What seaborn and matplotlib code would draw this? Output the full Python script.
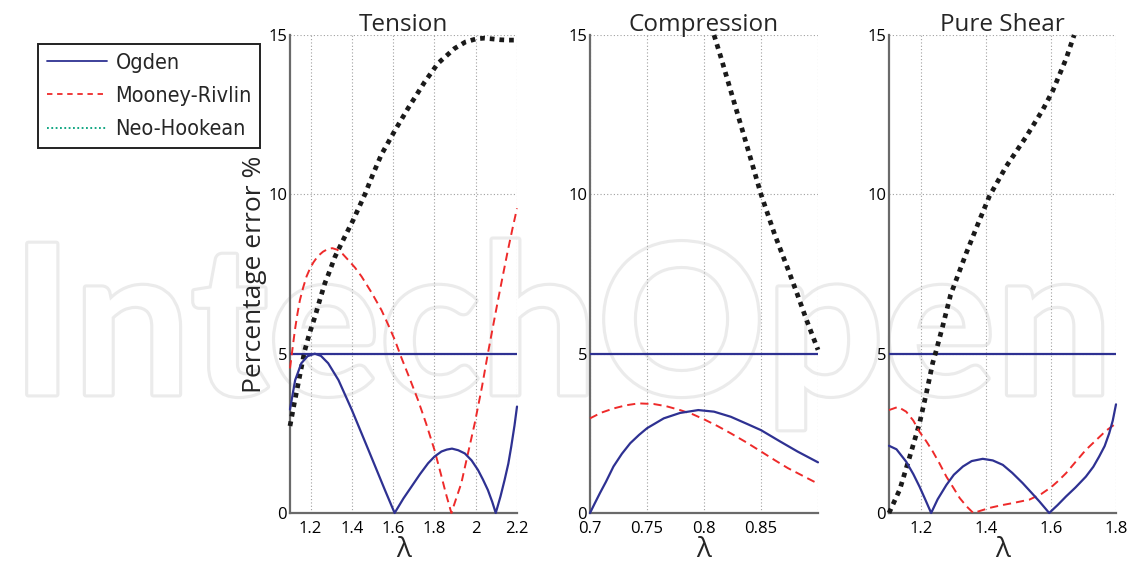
import matplotlib
matplotlib.use("Agg")
import matplotlib.pyplot as plt
import matplotlib.patheffects as pe
from matplotlib.lines import Line2D
import seaborn as sns

# ---- Tension: stretch ratio and percentage errors ----
tension_ogden_x = [1.100, 1.125, 1.155, 1.185, 1.220, 1.250, 1.285, 1.335, 1.400, 1.480,
                   1.560, 1.607, 1.650, 1.689, 1.730, 1.769, 1.800, 1.834, 1.860, 1.885,
                   1.915, 1.947, 1.980, 2.011, 2.035, 2.059, 2.080, 2.097, 2.120, 2.140,
                   2.158, 2.172, 2.188, 2.200]
tension_ogden_y = [3.25, 4.17, 4.70, 4.92, 5.00, 4.93, 4.70, 4.17, 3.23, 1.98,
                   0.72, 0.00, 0.46, 0.83, 1.22, 1.56, 1.77, 1.93, 1.99, 2.02,
                   1.97, 1.87, 1.65, 1.35, 1.05, 0.72, 0.35, 0.00, 0.52, 1.04,
                   1.55, 2.08, 2.75, 3.34]

tension_mooney_x = [1.100, 1.112, 1.124, 1.136, 1.148, 1.164, 1.180, 1.196, 1.213, 1.235,
                    1.260, 1.285, 1.305, 1.330, 1.355, 1.382, 1.415, 1.447, 1.495, 1.543,
                    1.575, 1.608, 1.640, 1.680, 1.720, 1.760, 1.800, 1.830, 1.855, 1.882,
                    1.905, 1.930, 1.960, 1.995, 2.030, 2.059, 2.085, 2.108, 2.132, 2.156,
                    2.178, 2.200]
tension_mooney_y = [4.54, 5.15, 5.75, 6.25, 6.68, 7.08, 7.42, 7.66, 7.86, 8.06,
                    8.20, 8.29, 8.31, 8.26, 8.13, 7.94, 7.70, 7.42, 6.92, 6.37,
                    5.92, 5.43, 4.87, 4.22, 3.55, 2.80, 1.98, 1.25, 0.62, 0.00,
                    0.45, 0.93, 1.80, 2.81, 3.95, 5.01, 5.90, 6.68, 7.47, 8.25,
                    8.92, 9.56]

tension_neo_x = [1.100, 1.120, 1.140, 1.156, 1.172, 1.195, 1.221, 1.245, 1.269, 1.285,
                 1.318, 1.360, 1.406, 1.463, 1.500, 1.543, 1.608, 1.672, 1.753, 1.817,
                 1.898, 1.950, 2.003, 2.040, 2.076, 2.120, 2.160, 2.200]
tension_neo_y = [2.73, 3.42, 4.07, 4.60, 5.11, 5.65, 6.16, 6.70, 7.21, 7.47,
                 8.04, 8.60, 9.19, 10.00, 10.60, 11.25, 12.00, 12.70, 13.53, 14.11,
                 14.58, 14.78, 14.88, 14.90, 14.88, 14.85, 14.84, 14.84]

# ---- Compression ----
compression_ogden_x = [0.7000, 0.7040, 0.7088, 0.7140, 0.7206, 0.7280, 0.7353, 0.7430, 0.7500,
                       0.7647, 0.7790, 0.7950, 0.8088, 0.8235, 0.8375, 0.8500, 0.8670, 0.8820,
                       0.9000]
compression_ogden_y = [0.00, 0.29, 0.63, 0.98, 1.46, 1.86, 2.19, 2.45, 2.66,
                       2.97, 3.14, 3.23, 3.18, 3.02, 2.80, 2.60, 2.24, 1.93,
                       1.59]

compression_mooney_x = [0.7000, 0.7100, 0.7206, 0.7315, 0.7426, 0.7559, 0.7670, 0.7790, 0.7900,
                        0.8000, 0.8118, 0.8235, 0.8370, 0.8500, 0.8620, 0.8735, 0.8870, 0.9000]
compression_mooney_y = [2.97, 3.15, 3.28, 3.38, 3.44, 3.42, 3.35, 3.23, 3.10,
                        2.94, 2.73, 2.50, 2.22, 1.93, 1.66, 1.41, 1.16, 0.92]

compression_neo_x = [0.8088, 0.8150, 0.8250, 0.8350, 0.8500, 0.8620, 0.8740, 0.8820, 0.8900, 0.9000]
compression_neo_y = [15.00, 14.28, 13.06, 11.85, 10.00, 8.74, 7.62, 6.85, 6.05, 5.12]

# ---- Pure shear ----
shear_ogden_x = [1.100, 1.123, 1.153, 1.175, 1.194, 1.212, 1.230, 1.250, 1.277, 1.300,
                 1.328, 1.355, 1.389, 1.420, 1.451, 1.480, 1.512, 1.540, 1.564, 1.594,
                 1.620, 1.646, 1.675, 1.707, 1.730, 1.748, 1.765, 1.779, 1.790, 1.800]
shear_ogden_y = [2.11, 2.00, 1.61, 1.22, 0.83, 0.42, 0.00, 0.43, 0.88, 1.20,
                 1.46, 1.63, 1.70, 1.65, 1.51, 1.26, 0.94, 0.63, 0.36, 0.00,
                 0.25, 0.52, 0.80, 1.14, 1.45, 1.77, 2.10, 2.50, 2.90, 3.41]

shear_mooney_x = [1.100, 1.128, 1.153, 1.175, 1.194, 1.215, 1.235, 1.256, 1.277, 1.298,
                  1.318, 1.340, 1.360, 1.410, 1.445, 1.481, 1.533, 1.570, 1.600, 1.620,
                  1.646, 1.675, 1.707, 1.740, 1.769, 1.800]
shear_mooney_y = [3.23, 3.33, 3.18, 2.90, 2.55, 2.25, 1.93, 1.55, 1.14, 0.80,
                  0.47, 0.20, 0.00, 0.16, 0.24, 0.31, 0.42, 0.60, 0.81, 0.99,
                  1.25, 1.60, 1.98, 2.30, 2.58, 2.81]

shear_neo_x = [1.100, 1.133, 1.164, 1.194, 1.215, 1.235, 1.243, 1.265, 1.290, 1.338,
               1.379, 1.410, 1.461, 1.523, 1.574, 1.605, 1.646, 1.671]
shear_neo_y = [0.00, 0.73, 1.77, 2.81, 3.75, 4.72, 5.00, 5.84, 6.85, 8.15,
               9.19, 9.95, 10.87, 11.81, 12.65, 13.25, 14.25, 15.00]

# ---- Axis setup ----
titles = ["Tension", "Compression", "Pure Shear"]
x_limits = [(1.1, 2.2), (0.7, 0.9), (1.1, 1.8)]
x_ticks = [[1.2, 1.4, 1.6, 1.8, 2.0, 2.2],
           [0.7, 0.75, 0.8, 0.85, 0.9],
           [1.2, 1.4, 1.6, 1.8]]
x_tick_labels = [["1.2", "1.4", "1.6", "1.8", "2", "2.2"],
                 ["0.7", "0.75", "0.8", "0.85", ""],
                 ["1.2", "1.4", "1.6", "1.8"]]
y_ticks = [0, 5, 10, 15]
threshold = 5
legend_labels = ["Ogden", "Mooney-Rivlin", "Neo-Hookean"]

sns.set_theme(style="white")
plt.rcParams["font.family"] = ["Open Sans", "DejaVu Sans"]

BLUE = "#2E3192"
RED = "#EE2A2A"
BLACK = "#1a1a1a"
TEAL = "#00A07A"

fig = plt.figure(figsize=(11.45, 5.65), dpi=100, facecolor="white")

# faint publisher watermark behind the panels
fig.text(0.010, 0.302, "IntechOpen", fontsize=150, fontweight="bold",
         family=["Lato", "DejaVu Sans"], color="white", zorder=-5,
         path_effects=[pe.Stroke(linewidth=4.5, foreground="#ebebeb"), pe.Normal()])

lefts = [290 / 1145, 590 / 1145, 889 / 1145]
widths = [227 / 1145, 228 / 1145, 227 / 1145]
bottom = 52 / 565
height = 478 / 565

series = [
    (tension_ogden_x, tension_ogden_y, tension_mooney_x, tension_mooney_y, tension_neo_x, tension_neo_y),
    (compression_ogden_x, compression_ogden_y, compression_mooney_x, compression_mooney_y,
     compression_neo_x, compression_neo_y),
    (shear_ogden_x, shear_ogden_y, shear_mooney_x, shear_mooney_y, shear_neo_x, shear_neo_y),
]

for i in range(3):
    ax = fig.add_axes([lefts[i], bottom, widths[i], height])
    ax.set_facecolor("none")
    ox, oy, mx, my, nx, ny = series[i]

    ax.axhline(threshold, color=BLUE, lw=1.6, zorder=3)
    sns.lineplot(x=nx, y=ny, ax=ax, color=BLACK, lw=3.4, sort=False,
                 linestyle=(0, (1.0, 1.05)), dash_capstyle="butt", clip_on=False, zorder=4)
    sns.lineplot(x=mx, y=my, ax=ax, color=RED, lw=1.4, sort=False,
                 linestyle=(0, (4.2, 2.6)), clip_on=False, zorder=5)
    sns.lineplot(x=ox, y=oy, ax=ax, color=BLUE, lw=1.6, sort=False, clip_on=False, zorder=6)

    ax.set_xlim(*x_limits[i])
    ax.set_ylim(0, 15)
    ax.set_xticks(x_ticks[i])
    ax.set_xticklabels(x_tick_labels[i])
    ax.set_yticks(y_ticks)
    ax.set_yticklabels([str(v) for v in y_ticks])
    ax.grid(True, which="major", linestyle=(0, (1, 2)), color="#a0a0a0", lw=0.8)
    ax.tick_params(axis="both", direction="in", length=4, width=1, color="#555555",
                   labelsize=12, labelcolor="black")
    ax.tick_params(axis="x", pad=6)
    ax.tick_params(axis="y", pad=2)
    for side in ["top", "right"]:
        ax.spines[side].set_visible(False)
    for side in ["left", "bottom"]:
        ax.spines[side].set_color("#6a6a6a")
        ax.spines[side].set_linewidth(1.6)

    ax.set_title(titles[i], fontsize=17.5, pad=3)
    ax.set_xlabel("λ", fontsize=20, labelpad=-1)
    if i == 0:
        ax.set_ylabel("Percentage error %", fontsize=19, labelpad=1)
    else:
        ax.set_ylabel("")

handles = [
    Line2D([], [], color=BLUE, lw=1.3),
    Line2D([], [], color=RED, lw=1.3, linestyle=(0, (3.0, 2.6))),
    Line2D([], [], color=TEAL, lw=1.3, linestyle=(0, (1.0, 1.4))),
]
leg = fig.legend(handles, legend_labels, loc="upper left",
                 bbox_to_anchor=(38 / 1145, 1 - 44 / 565),
                 prop={"family": "DejaVu Sans", "stretch": "condensed", "size": 15.5},
                 frameon=True, fancybox=False, framealpha=1, edgecolor="#222222",
                 handlelength=2.8, handletextpad=0.4, labelspacing=0.62,
                 borderpad=0.4, borderaxespad=0)
leg.get_frame().set_linewidth(1.4)

fig.savefig("out.png", dpi=100, facecolor="white")
